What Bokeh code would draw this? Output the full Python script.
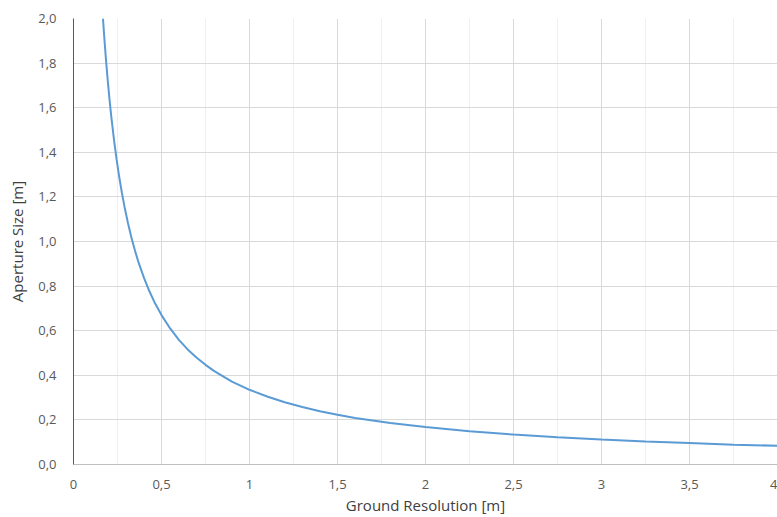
from bokeh.plotting import figure
from bokeh.models import Range1d, FixedTicker, CustomJSTickFormatter
from bokeh.embed import file_html
from bokeh.resources import INLINE

# Ground resolution [m] versus required aperture size [m]
ground_resolution = [0.1675, 0.175, 0.185, 0.195, 0.205, 0.215, 0.23, 0.245, 0.26, 0.275,
                     0.29, 0.31, 0.33, 0.35, 0.37, 0.40, 0.43, 0.46, 0.50, 0.55,
                     0.60, 0.65, 0.70, 0.75, 0.80, 0.90, 1.00, 1.10, 1.20, 1.30,
                     1.40, 1.50, 1.60, 1.80, 2.00, 2.25, 2.50, 2.75, 3.00, 3.25,
                     3.50, 3.75, 4.00]
aperture_size = [2.000, 1.914, 1.811, 1.718, 1.634, 1.558, 1.457, 1.367, 1.288, 1.218,
                 1.155, 1.081, 1.015, 0.957, 0.905, 0.838, 0.779, 0.728, 0.670, 0.609,
                 0.558, 0.515, 0.479, 0.447, 0.419, 0.372, 0.335, 0.305, 0.279, 0.258,
                 0.239, 0.223, 0.209, 0.186, 0.168, 0.149, 0.134, 0.122, 0.112, 0.103,
                 0.096, 0.089, 0.084]

x_ticks = [0, 0.5, 1, 1.5, 2, 2.5, 3, 3.5, 4]
x_minor = [0.25, 0.75, 1.25, 1.75, 2.25, 2.75, 3.25, 3.75]
y_ticks = [0, 0.2, 0.4, 0.6, 0.8, 1.0, 1.2, 1.4, 1.6, 1.8, 2.0]

FONT = "Open Sans"
TEXT = "#595959"

p = figure(width=777, height=517, output_backend="svg", toolbar_location=None,
           x_range=Range1d(0, 4), y_range=Range1d(0, 2),
           min_border_left=73, min_border_right=0, min_border_top=18,
           min_border_bottom=52)
p.outline_line_color = None
p.background_fill_color = "white"
p.border_fill_color = "white"

p.line(ground_resolution, aperture_size, line_color="#5b9bd5", line_width=2)

# x axis
p.xaxis.ticker = FixedTicker(ticks=x_ticks, minor_ticks=x_minor)
p.xaxis.formatter = CustomJSTickFormatter(
    code="return (Math.round(tick*10)/10).toString().replace('.', ',');")
p.xaxis.axis_label = "Ground Resolution [m]"
p.xaxis.axis_line_color = "#bfbfbf"
p.xaxis.major_tick_line_color = None
p.xaxis.minor_tick_line_color = None
p.xaxis.major_label_standoff = 9
p.xaxis.axis_label_standoff = 3

# y axis
p.yaxis.ticker = FixedTicker(ticks=y_ticks)
p.yaxis.formatter = CustomJSTickFormatter(
    code="return tick.toFixed(1).replace('.', ',');")
p.yaxis.axis_label = "Aperture Size [m]"
p.yaxis.axis_line_color = "#595959"
p.yaxis.major_tick_line_color = None
p.yaxis.minor_tick_line_color = None
p.yaxis.major_label_standoff = 11
p.yaxis.axis_label_standoff = 8

for ax in (p.xaxis, p.yaxis):
    ax.major_label_text_font = FONT
    ax.major_label_text_font_size = "13px"
    ax.major_label_text_color = TEXT
    ax.axis_label_text_font = FONT
    ax.axis_label_text_font_size = "15px"
    ax.axis_label_text_font_style = "normal"
    ax.axis_label_text_color = "#404040"

# grid lines
p.xgrid.grid_line_color = "#d9d9d9"
p.xgrid.minor_grid_line_color = "#efefef"
p.ygrid.grid_line_color = "#d9d9d9"

open("out.html", "w").write(file_html(p, INLINE))
